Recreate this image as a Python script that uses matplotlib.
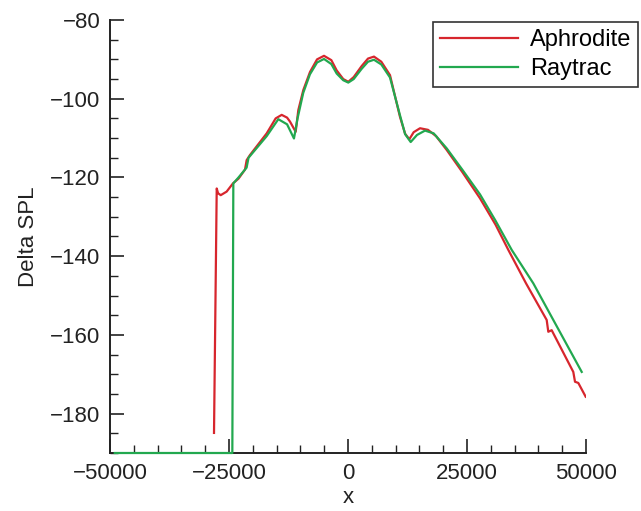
import numpy as np
import matplotlib
matplotlib.use("Agg")
import matplotlib.pyplot as plt
from matplotlib.ticker import MultipleLocator

plt.rcParams['font.family'] = ['Liberation Sans', 'DejaVu Sans']

# Aphrodite (red)
aph_x = [-28150, -27580, -27300, -26740, -25500, -24160, -23000, -21640, -21290, -20590,
         -17080, -15200, -13930, -12800, -12190, -10990, -10440, -9390, -7980, -6500,
         -5040, -3500, -2380, -1000, 60, 1200, 2870, 4200, 5460, 7000,
         8820, 10920, 12000, 12880, 13800, 15130, 16800, 18500, 20730, 24000,
         27730, 31000, 33680, 37400, 41740, 42080, 42790, 47330, 47690, 48380, 49930]
aph_y = [-184.9, -122.8, -124.0, -124.5, -123.6, -121.5, -120.3, -118.0, -115.6, -114.3,
         -108.8, -105.0, -104.1, -104.8, -105.8, -108.4, -102.9, -97.8, -93.2, -90.0,
         -89.1, -90.2, -92.8, -95.0, -95.7, -94.5, -91.7, -89.8, -89.3, -90.6,
         -94.0, -104.6, -108.9, -110.3, -108.5, -107.5, -107.9, -109.5, -113.0, -118.6,
         -125.3, -132.0, -138.4, -146.9, -156.2, -159.2, -158.8, -169.4, -171.9, -172.2, -175.7]

# Raytrac (green)
ray_x = [-49000, -24300, -24090, -23000, -21300, -20900, -17080, -14640, -12800, -11350,
         -10600, -9400, -8000, -6500, -5040, -3500, -2380, -1000, 60, 1200,
         2870, 4200, 5460, 7000, 8820, 10920, 12000, 13170, 14500, 16180,
         18000, 20730, 24000, 27730, 31000, 34390, 38930, 43130, 49100]
ray_y = [-190.0, -190.0, -121.5, -120.0, -117.5, -115.0, -109.5, -105.2, -106.5, -110.1,
         -105.0, -98.5, -93.8, -90.8, -89.9, -91.2, -93.6, -95.3, -95.9, -95.0,
         -92.4, -90.6, -90.1, -91.3, -94.6, -104.2, -109.0, -111.0, -109.2, -108.1,
         -108.8, -112.6, -118.0, -124.3, -131.0, -138.4, -146.9, -156.2, -169.4]

fig = plt.figure(figsize=(6.41, 5.11), dpi=100)
ax = fig.add_axes([110/641, 1-453/511, 476/641, 433/511])

ax.plot(aph_x, aph_y, color='#d7262d', lw=1.6, label='Aphrodite', zorder=3)
ax.plot(ray_x, ray_y, color='#22a84f', lw=1.6, label='Raytrac', zorder=4, clip_on=False)

ax.set_xlim(-50000, 50000)
ax.set_ylim(-190, -80)
ax.xaxis.set_major_locator(MultipleLocator(25000))
ax.xaxis.set_minor_locator(MultipleLocator(5000))
ax.yaxis.set_major_locator(MultipleLocator(20))
ax.yaxis.set_minor_locator(MultipleLocator(5))

for s in ['top', 'right']:
    ax.spines[s].set_visible(False)
for s in ['left', 'bottom']:
    ax.spines[s].set_linewidth(1.4)
    ax.spines[s].set_color('#222222')

ax.tick_params(which='both', direction='in', colors='#222222', labelsize=16, pad=7)
ax.tick_params(which='major', length=10, width=1.2)
ax.tick_params(which='minor', length=6, width=1.0)

ax.set_xlabel('x', fontsize=16, color='#222222', labelpad=2)
ax.set_ylabel('Delta SPL', fontsize=16, color='#222222', labelpad=8)

leg = ax.legend(loc='upper left', bbox_to_anchor=(433/641, 1-22/511),
                bbox_transform=fig.transFigure, borderaxespad=0,
                fontsize=17, handlelength=3.3, handletextpad=0.5,
                labelspacing=0.3, borderpad=0.3, fancybox=False, framealpha=1)
leg.get_frame().set_edgecolor('#333333')
leg.get_frame().set_linewidth(1.2)

fig.savefig('out.png', dpi=100)
